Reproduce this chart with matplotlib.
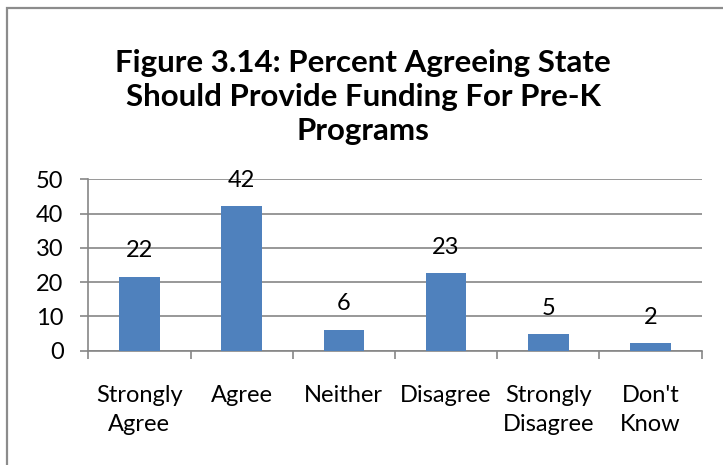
import matplotlib.pyplot as plt
from matplotlib.patches import Rectangle

# data
categories = ['Strongly\nAgree', 'Agree', 'Neither', 'Disagree', 'Strongly\nDisagree', "Don't\nKnow"]
percent = [21.6, 42.1, 6.1, 22.6, 4.8, 2.2]
labels = ['22', '42', '6', '23', '5', '2']
y_ticks = [0, 10, 20, 30, 40, 50]

plt.rcParams['font.family'] = ['Lato', 'DejaVu Sans']
grey = '#868686'

fig = plt.figure(figsize=(7.23, 4.65), dpi=100)
ax = fig.add_axes([0.1221, 0.2458, 0.9705 - 0.1221, 0.6144 - 0.2458])

x = list(range(len(categories)))
bars = ax.bar(x, percent, width=0.395, color='#4F81BD', zorder=3)

# value labels above the bars
for b, lab in zip(bars, labels):
    ax.annotate(lab, (b.get_x() + b.get_width() / 2, b.get_height()),
                xytext=(0, 14), textcoords='offset points',
                ha='center', va='baseline', fontsize=17)

ax.set_xlim(-0.5, len(categories) - 0.5)
ax.set_ylim(0, 50)
ax.set_yticks(y_ticks)
ax.tick_params(axis='y', length=5.8, width=1.2, color=grey, pad=12, labelsize=17)

# category labels between boundary ticks
ax.set_xticks([i - 0.5 for i in range(len(categories) + 1)])
ax.set_xticklabels([])
ax.set_xticks(x, minor=True)
ax.set_xticklabels(categories, minor=True, fontsize=17, linespacing=1.45)
ax.tick_params(axis='x', which='minor', length=0, pad=25)
ax.tick_params(axis='x', which='major', length=5.8, width=1.2, color=grey)

ax.grid(axis='y', color=grey, linewidth=1.2, zorder=0)
for s in ['top', 'right']:
    ax.spines[s].set_visible(False)
for s in ['left', 'bottom']:
    ax.spines[s].set_color(grey)
    ax.spines[s].set_linewidth(1.2)

fig.text(363 / 723, 0.895,
         'Figure 3.14: Percent Agreeing State\nShould Provide Funding For Pre-K\nPrograms',
         ha='center', va='top', fontsize=22.5, fontweight='bold', linespacing=1.27)

# chart border (right and bottom edges are cropped off)
fig.patches.append(Rectangle((7 / 723, -0.1), 1.2, 1.1 - 8 / 465, transform=fig.transFigure,
                             fill=False, edgecolor='#8c8c8c', linewidth=1.6))

plt.savefig('out.png')
